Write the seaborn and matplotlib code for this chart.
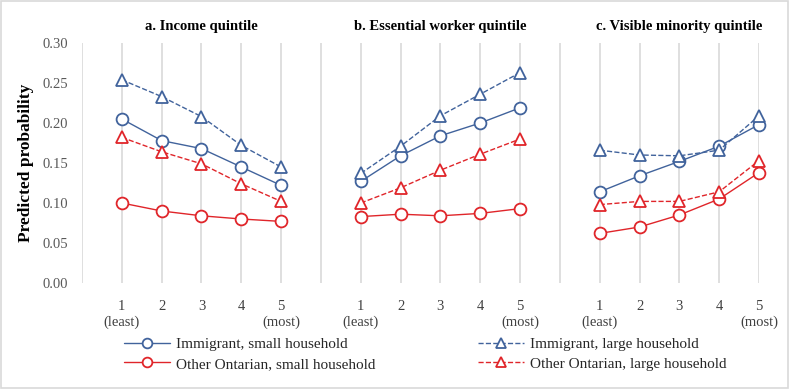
import matplotlib
matplotlib.use("Agg")
import matplotlib.pyplot as plt
import seaborn as sns
import pandas as pd
from matplotlib.lines import Line2D
from matplotlib.patches import Rectangle

# ---- data ----
panels = ["a. Income quintile", "b. Essential worker quintile", "c. Visible minority quintile"]
quintiles = ["1", "2", "3", "4", "5"]
tick_labels = ["1\n(least)", "2", "3", "4", "5\n(most)"]
series_names = ["Immigrant, small household", "Other Ontarian, small household",
                "Immigrant, large household", "Other Ontarian, large household"]

imm_small_a = [0.205, 0.178, 0.168, 0.145, 0.122]
imm_small_b = [0.127, 0.159, 0.184, 0.200, 0.219]
imm_small_c = [0.114, 0.134, 0.152, 0.171, 0.198]

oth_small_a = [0.100, 0.090, 0.084, 0.080, 0.077]
oth_small_b = [0.083, 0.086, 0.084, 0.087, 0.093]
oth_small_c = [0.062, 0.070, 0.085, 0.105, 0.138]

imm_large_a = [0.254, 0.233, 0.208, 0.172, 0.145]
imm_large_b = [0.137, 0.171, 0.209, 0.236, 0.263]
imm_large_c = [0.166, 0.160, 0.159, 0.166, 0.209]

oth_large_a = [0.182, 0.164, 0.149, 0.124, 0.102]
oth_large_b = [0.100, 0.119, 0.141, 0.161, 0.180]
oth_large_c = [0.098, 0.102, 0.102, 0.114, 0.153]

values = {
    series_names[0]: [imm_small_a, imm_small_b, imm_small_c],
    series_names[1]: [oth_small_a, oth_small_b, oth_small_c],
    series_names[2]: [imm_large_a, imm_large_b, imm_large_c],
    series_names[3]: [oth_large_a, oth_large_b, oth_large_c],
}

BLUE = "#41639c"
RED = "#e0252a"
styles = {
    series_names[0]: dict(color=BLUE, marker="o", ls="-"),
    series_names[1]: dict(color=RED, marker="o", ls="-"),
    series_names[2]: dict(color=BLUE, marker="^", ls="--"),
    series_names[3]: dict(color=RED, marker="^", ls="--"),
}

rows = []
for s, lists in values.items():
    for p, vals in enumerate(lists):
        for q, v in enumerate(vals):
            rows.append(dict(series=s, panel=panels[p], pos=p * 6 + q + 1, value=v))
df = pd.DataFrame(rows)

sns.set_theme(style="white")
plt.rcParams["font.family"] = ["Liberation Serif", "DejaVu Serif"]

fig = plt.figure(figsize=(7.9, 3.89), dpi=100)
ax = fig.add_axes([82 / 790, 1 - 283 / 389, (759 - 82) / 790, (283 - 43) / 389])

handles = []
for s in series_names:
    st = styles[s]
    sub = df[df.series == s]
    sns.lineplot(data=sub, x="pos", y="value", units="panel", estimator=None,
                 ax=ax, color=st["color"], linestyle=st["ls"], linewidth=1.0,
                 marker=st["marker"], markersize=8.5 if st["marker"] == "o" else 8,
                 markerfacecolor="white", markeredgecolor=st["color"],
                 markeredgewidth=1.3, clip_on=False, zorder=3, legend=False)
    handles.append(Line2D([], [], color=st["color"], linestyle=st["ls"], linewidth=1.0,
                          marker=st["marker"], markersize=7, markerfacecolor="white",
                          markeredgecolor=st["color"], markeredgewidth=1.3))

ax.set_xlim(0, 17)
ax.set_ylim(0, 0.30)
for x in range(0, 18):
    ax.axvline(x, color="#d9d9d9", lw=1.2, zorder=0)
for sp in ax.spines.values():
    sp.set_visible(False)

xt = []
xl = []
for p in range(3):
    for q in range(5):
        xt.append(p * 6 + q + 1)
        xl.append(tick_labels[q])
ax.set_xticks(xt)
ax.set_xticklabels(xl, fontsize=10.5, color="#404040", linespacing=1.3, va="top")
ax.tick_params(axis="x", length=0, pad=12)
ax.set_yticks([0, 0.05, 0.10, 0.15, 0.20, 0.25, 0.30])
ax.set_yticklabels([f"{v:.2f}" for v in [0, 0.05, 0.10, 0.15, 0.20, 0.25, 0.30]],
                   fontsize=10.5, color="#595959")
ax.tick_params(axis="y", length=0, pad=10)
ax.set_xlabel("")
ax.set_ylabel("Predicted probability", fontsize=12.5, fontweight="bold", color="black", labelpad=6)

for p, title in enumerate(panels):
    ax.text(p * 6 + 3, 0.30 + 0.021, title, ha="center", va="center",
            fontsize=10.5, fontweight="bold", color="black")

order = [handles[0], handles[1], handles[2], handles[3]]
fig.legend(order, series_names, ncol=2, loc="center left",
           bbox_to_anchor=(110 / 790, 1 - 354 / 389), frameon=False,
           fontsize=11, handlelength=3.0, handletextpad=0.4,
           columnspacing=6.75, labelspacing=0.4, labelcolor="#262626")

fig.patches.append(Rectangle((0.001, 0.002), 0.997, 0.995, transform=fig.transFigure,
                             fill=False, edgecolor="#d9d9d9", lw=1.2))

fig.savefig("out.png", dpi=100, facecolor="white")
